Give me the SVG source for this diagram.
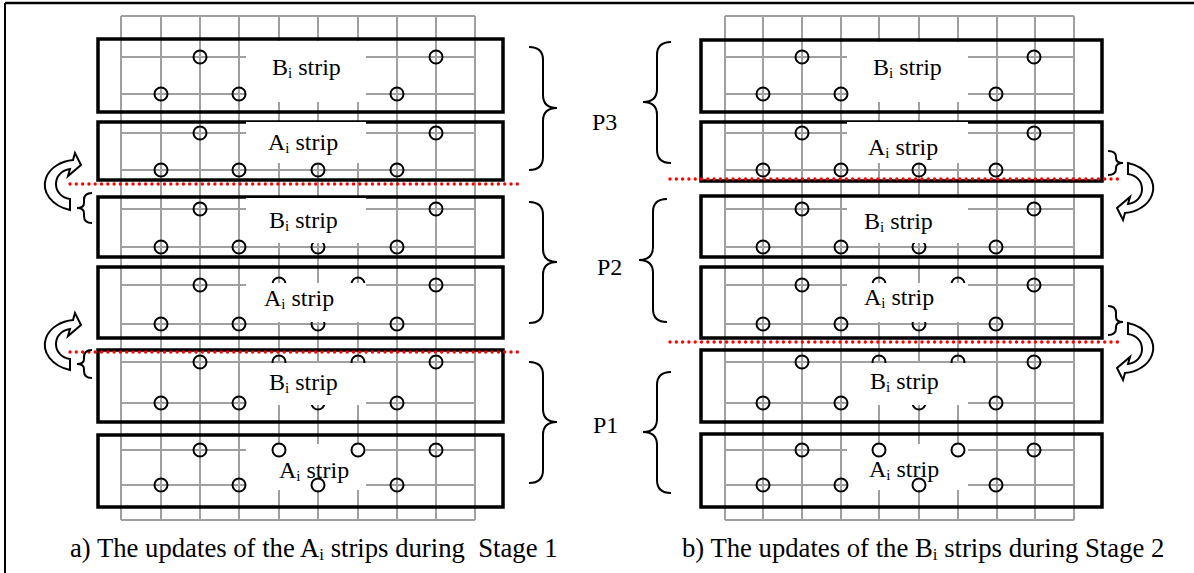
<svg xmlns="http://www.w3.org/2000/svg" width="1194" height="573" viewBox="0 0 1194 573">
<style>
.grid{stroke:#a0a0a0;stroke-width:2;fill:none}
.strip{fill:none;stroke:#000;stroke-width:3.5}
.pt{fill:none;stroke:#000;stroke-width:2}
.lbl{fill:#fff;stroke:none}
.brace{fill:none;stroke:#000;stroke-width:2}
.red{stroke:#f00;stroke-width:3.4;stroke-dasharray:0 6.3;stroke-linecap:round;fill:none}
.arrow{fill:#fff;stroke:#000;stroke-width:2}
text{font-family:"Liberation Serif","Times New Roman",serif;fill:#000}
.t{font-size:24px}
.cap{font-size:26.7px}
.p{font-size:24px}
</style>
<defs>
<path id="curl" d="M70 210 C52 206 41 192 46 178 C50 167 62 161 73 160 L75 153 L81 165 L68 176 L70 169 C62 170 56 176 56 184 C56 192 62 198 70 199 Z"/>
</defs>
<g id="frame" fill="none" stroke="#000">
<line x1="5" y1="3" x2="1194" y2="3" stroke-width="2.5"/>
<line x1="5" y1="3" x2="5" y2="573" stroke-width="2"/>
</g>
<g id="grid-a" class="grid">
<path d="M121 16V520M161 16V520M200 16V520M239 16V520M279 16V520M318 16V520M358 16V520M397 16V520M436 16V520M475 16V520"/>
<path d="M121 16H475M121 57H475M121 94H475M121 133H475M121 170H475M121 209H475M121 247H475M121 285H475M121 324H475M121 362H475M121 403H475M121 450H475M121 485H475M121 520H475"/>
</g>
<g id="grid-b" class="grid">
<path d="M725 16V520M763 16V520M802 16V520M841 16V520M879 16V520M919 16V520M958 16V520M997 16V520M1035 16V520M1074 16V520"/>
<path d="M725 16H1074M725 57H1074M725 94H1074M725 133H1074M725 170H1074M725 209H1074M725 247H1074M725 285H1074M725 324H1074M725 362H1074M725 403H1074M725 450H1074M725 485H1074M725 520H1074"/>
</g>
<g id="strips-a" class="strip">
<rect id="a-s1" x="98" y="39" width="405" height="73"/>
<rect id="a-s2" x="98" y="122" width="405" height="58"/>
<rect id="a-s3" x="98" y="197" width="405" height="60"/>
<rect id="a-s4" x="98" y="267" width="405" height="71"/>
<rect id="a-s5" x="98" y="350" width="405" height="72"/>
<rect id="a-s6" x="98" y="435" width="405" height="72"/>
</g>
<g id="strips-b" class="strip">
<rect id="b-s1" x="701" y="40" width="401" height="72"/>
<rect id="b-s2" x="701" y="122" width="401" height="59"/>
<rect id="b-s3" x="701" y="196" width="401" height="61"/>
<rect id="b-s4" x="701" y="267" width="401" height="71"/>
<rect id="b-s5" x="701" y="350" width="401" height="72"/>
<rect id="b-s6" x="701" y="434" width="401" height="73"/>
</g>
<g id="hidden-points" class="pt">
<circle cx="318" cy="247" r="6.5"/><circle cx="279" cy="284" r="6.5"/><circle cx="358" cy="284" r="6.5"/><circle cx="318" cy="324" r="6.5"/><circle cx="279" cy="362" r="6.5"/><circle cx="358" cy="362" r="6.5"/><circle cx="318" cy="403" r="6.5"/>
<circle cx="919" cy="247" r="6.5"/><circle cx="879" cy="284" r="6.5"/><circle cx="958" cy="284" r="6.5"/><circle cx="919" cy="324" r="6.5"/><circle cx="879" cy="362" r="6.5"/><circle cx="958" cy="362" r="6.5"/><circle cx="919" cy="403" r="6.5"/>
</g>
<g id="label-boxes" class="lbl">
<rect x="246" y="41" width="120" height="61"/><rect x="246" y="122" width="120" height="41"/><rect x="246" y="198" width="120" height="45"/><rect x="246" y="283" width="120" height="39"/><rect x="246" y="363" width="120" height="42"/><rect x="246" y="444" width="120" height="46"/>
<rect x="847" y="42" width="121" height="60"/><rect x="847" y="122" width="121" height="41"/><rect x="847" y="198" width="121" height="45"/><rect x="847" y="283" width="121" height="39"/><rect x="847" y="363" width="121" height="42"/><rect x="847" y="444" width="121" height="46"/>
</g>
<g id="points-a" class="pt">
<circle cx="200" cy="57" r="6.5"/><circle cx="436" cy="57" r="6.5"/><circle cx="161" cy="94" r="6.5"/><circle cx="239" cy="94" r="6.5"/><circle cx="397" cy="94" r="6.5"/>
<circle cx="200" cy="133" r="6.5"/><circle cx="436" cy="133" r="6.5"/><circle cx="161" cy="170" r="6.5"/><circle cx="239" cy="170" r="6.5"/><circle cx="318" cy="170" r="6.5"/><circle cx="397" cy="170" r="6.5"/>
<circle cx="200" cy="209" r="6.5"/><circle cx="436" cy="209" r="6.5"/><circle cx="161" cy="247" r="6.5"/><circle cx="239" cy="247" r="6.5"/><circle cx="397" cy="247" r="6.5"/>
<circle cx="200" cy="285" r="6.5"/><circle cx="436" cy="285" r="6.5"/><circle cx="161" cy="324" r="6.5"/><circle cx="239" cy="324" r="6.5"/><circle cx="397" cy="324" r="6.5"/>
<circle cx="200" cy="362" r="6.5"/><circle cx="436" cy="362" r="6.5"/><circle cx="161" cy="403" r="6.5"/><circle cx="239" cy="403" r="6.5"/><circle cx="397" cy="403" r="6.5"/>
<circle cx="200" cy="450" r="6.5"/><circle cx="279" cy="450" r="6.5"/><circle cx="358" cy="450" r="6.5"/><circle cx="436" cy="450" r="6.5"/><circle cx="161" cy="485" r="6.5"/><circle cx="239" cy="485" r="6.5"/><circle cx="318" cy="485" r="6.5"/><circle cx="397" cy="485" r="6.5"/>
</g>
<g id="points-b" class="pt">
<circle cx="802" cy="57" r="6.5"/><circle cx="1034" cy="57" r="6.5"/><circle cx="763" cy="94" r="6.5"/><circle cx="841" cy="94" r="6.5"/><circle cx="996" cy="94" r="6.5"/>
<circle cx="802" cy="133" r="6.5"/><circle cx="1034" cy="133" r="6.5"/><circle cx="763" cy="170" r="6.5"/><circle cx="841" cy="170" r="6.5"/><circle cx="919" cy="170" r="6.5"/><circle cx="996" cy="170" r="6.5"/>
<circle cx="802" cy="209" r="6.5"/><circle cx="1034" cy="209" r="6.5"/><circle cx="763" cy="247" r="6.5"/><circle cx="841" cy="247" r="6.5"/><circle cx="996" cy="247" r="6.5"/>
<circle cx="802" cy="285" r="6.5"/><circle cx="1034" cy="285" r="6.5"/><circle cx="763" cy="324" r="6.5"/><circle cx="841" cy="324" r="6.5"/><circle cx="996" cy="324" r="6.5"/>
<circle cx="802" cy="362" r="6.5"/><circle cx="1034" cy="362" r="6.5"/><circle cx="763" cy="403" r="6.5"/><circle cx="841" cy="403" r="6.5"/><circle cx="996" cy="403" r="6.5"/>
<circle cx="802" cy="450" r="6.5"/><circle cx="879" cy="450" r="6.5"/><circle cx="958" cy="450" r="6.5"/><circle cx="1034" cy="450" r="6.5"/><circle cx="763" cy="485" r="6.5"/><circle cx="841" cy="485" r="6.5"/><circle cx="919" cy="485" r="6.5"/><circle cx="996" cy="485" r="6.5"/>
</g>
<g id="strip-labels" class="t">
<text x="272" y="75">B<tspan font-size="15" dy="3">i</tspan><tspan dy="-3"> strip</tspan></text>
<text x="268" y="150">A<tspan font-size="15" dy="3">i</tspan><tspan dy="-3"> strip</tspan></text>
<text x="269" y="228">B<tspan font-size="15" dy="3">i</tspan><tspan dy="-3"> strip</tspan></text>
<text x="264" y="306">A<tspan font-size="15" dy="3">i</tspan><tspan dy="-3"> strip</tspan></text>
<text x="269" y="390">B<tspan font-size="15" dy="3">i</tspan><tspan dy="-3"> strip</tspan></text>
<text x="279" y="478">A<tspan font-size="15" dy="3">i</tspan><tspan dy="-3"> strip</tspan></text>
<text x="873" y="75">B<tspan font-size="15" dy="3">i</tspan><tspan dy="-3"> strip</tspan></text>
<text x="868" y="155">A<tspan font-size="15" dy="3">i</tspan><tspan dy="-3"> strip</tspan></text>
<text x="864" y="229">B<tspan font-size="15" dy="3">i</tspan><tspan dy="-3"> strip</tspan></text>
<text x="864" y="305">A<tspan font-size="15" dy="3">i</tspan><tspan dy="-3"> strip</tspan></text>
<text x="870" y="389">B<tspan font-size="15" dy="3">i</tspan><tspan dy="-3"> strip</tspan></text>
<text x="869" y="477">A<tspan font-size="15" dy="3">i</tspan><tspan dy="-3"> strip</tspan></text>
</g>
<g id="connectors">
<line class="red" x1="70" y1="184" x2="520" y2="184"/>
<line class="red" x1="70" y1="352" x2="520" y2="352"/>
<line class="red" x1="670" y1="179" x2="1120" y2="179"/>
<line class="red" x1="670" y1="342" x2="1120" y2="342"/>
<use href="#curl" class="arrow"/>
<use href="#curl" class="arrow" transform="translate(0,160)"/>
<use href="#curl" class="arrow" transform="translate(1198,373) scale(-1,-1)"/>
<use href="#curl" class="arrow" transform="translate(1198,533) scale(-1,-1)"/>
</g>
<g id="braces" class="brace">
<path d="M529 47Q543 47 543 60V95Q543 108 557 108Q543 108 543 121V157Q543 170 529 170"/>
<path d="M529 202Q543 202 543 215V249Q543 262 557 262Q543 262 543 275V310Q543 323 529 323"/>
<path d="M529 362Q543 362 543 375V409Q543 422 557 422Q543 422 543 435V470Q543 483 529 483"/>
<path d="M671 42Q657 42 657 55V89Q657 102 643 102Q657 102 657 115V150Q657 163 671 163"/>
<path d="M667 199Q653 199 653 212V247Q653 260 639 260Q653 260 653 273V309Q653 322 667 322"/>
<path d="M671 372Q657 372 657 385V419Q657 432 643 432Q657 432 657 445V480Q657 493 671 493"/>
<path d="M92 193Q84 193 84 200V203Q84 208 77 208Q84 208 84 213V216Q84 223 92 223"/>
<path d="M92 350Q84 350 84 357V359Q84 364 77 364Q84 364 84 369V371Q84 378 92 378"/>
<path d="M1108 151Q1116 151 1116 157V158Q1116 163 1123 163Q1116 163 1116 168V169Q1116 175 1108 175"/>
<path d="M1108 306Q1116 306 1116 313V317Q1116 322 1123 322Q1116 322 1116 327V328Q1116 335 1108 335"/>
</g>
<g id="p-labels" class="p">
<text x="592" y="130">P3</text>
<text x="597" y="275">P2</text>
<text x="593" y="433">P1</text>
</g>
<g id="captions" class="cap">
<text x="70" y="557">a) The updates of the A<tspan font-size="17" dy="3">i</tspan><tspan dy="-3"> strips during&#160; Stage 1</tspan></text>
<text x="682" y="557">b) The updates of the B<tspan font-size="17" dy="3">i</tspan><tspan dy="-3"> strips during Stage 2</tspan></text>
</g>
</svg>
